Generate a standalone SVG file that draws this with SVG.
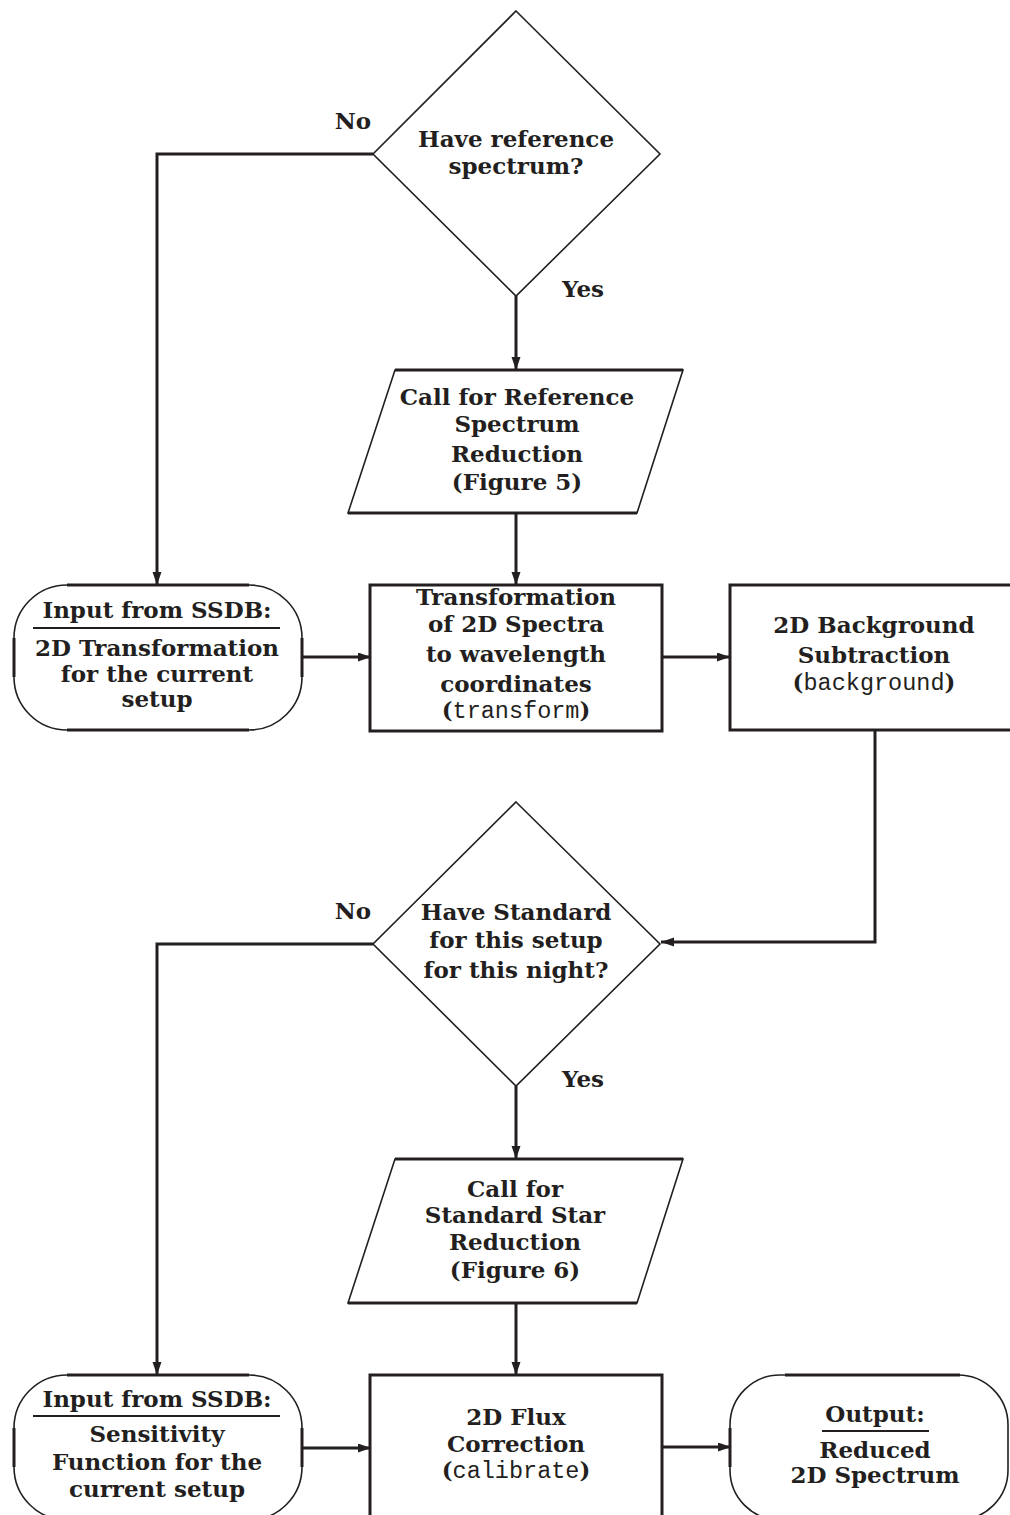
<svg xmlns="http://www.w3.org/2000/svg" width="1010" height="1515" viewBox="0 0 1010 1515">
<style>
.t{font-family:"DejaVu Serif","Liberation Serif",serif;font-weight:bold;font-size:23px;fill:#231f20;text-anchor:middle}
.m{font-family:"Liberation Mono","DejaVu Sans Mono",monospace;font-weight:normal;font-size:23.5px}
.thin{fill:#fff;stroke:#231f20;stroke-width:1.6}
.thick{fill:none;stroke:#231f20;stroke-width:3}
.box{fill:#fff;stroke:#231f20;stroke-width:3}
.ul{stroke:#231f20;stroke-width:2.2}
.c{fill:none;stroke:#231f20;stroke-width:3}
</style>
<defs>
<marker id="ah" markerUnits="userSpaceOnUse" markerWidth="14" markerHeight="10" refX="13" refY="4.5" orient="auto">
<path d="M0,0 L13,4.5 L0,9 Z" fill="#231f20"/>
</marker>
</defs>
<rect width="1010" height="1515" fill="#fff"/>

<g id="connectors">
<path class="c" d="M373,154 H157 V585" marker-end="url(#ah)"/>
<path class="c" d="M516,296 V370" marker-end="url(#ah)"/>
<path class="c" d="M516,513 V585" marker-end="url(#ah)"/>
<path class="c" d="M302,657 H371" marker-end="url(#ah)"/>
<path class="c" d="M662,657 H730" marker-end="url(#ah)"/>
<path class="c" d="M875,730 V942 H661" marker-end="url(#ah)"/>
<path class="c" d="M373,944 H157 V1375" marker-end="url(#ah)"/>
<path class="c" d="M516,1086 V1159" marker-end="url(#ah)"/>
<path class="c" d="M516,1303 V1375" marker-end="url(#ah)"/>
<path class="c" d="M302,1448 H371" marker-end="url(#ah)"/>
<path class="c" d="M662,1447 H731" marker-end="url(#ah)"/>
</g>

<g id="decision1">
<polygon class="thin" points="516,11 660,154 516,296 373,154"/>
<text class="t" x="516" y="147">Have reference</text>
<text class="t" x="516" y="174">spectrum?</text>
<text class="t" x="353" y="129">No</text>
<text class="t" x="583" y="297">Yes</text>
</g>

<g id="callref">
<polygon class="thin" points="395,370 683,370 637,513 348,513"/>
<path class="thick" d="M395,370 H683 M348,513 H637"/>
<text class="t" x="517" y="405">Call for Reference</text>
<text class="t" x="517" y="432">Spectrum</text>
<text class="t" x="517" y="462">Reduction</text>
<text class="t" x="517" y="490">(Figure 5)</text>
</g>

<g id="input1">
<rect class="thin" x="14" y="585" width="288" height="145" rx="53" ry="53"/>
<path class="thick" d="M67,585 H249 M67,730 H249 M14,638 V677 M302,638 V677"/>
<text class="t" x="157" y="618">Input from SSDB:</text>
<line class="ul" x1="33" y1="628" x2="280" y2="628"/>
<text class="t" x="157" y="656">2D Transformation</text>
<text class="t" x="157" y="682">for the current</text>
<text class="t" x="157" y="707">setup</text>
</g>

<g id="transform">
<rect class="box" x="370" y="585" width="292" height="146"/>
<text class="t" x="516" y="605">Transformation</text>
<text class="t" x="516" y="632">of 2D Spectra</text>
<text class="t" x="516" y="662">to wavelength</text>
<text class="t" x="516" y="692">coordinates</text>
<text class="t" x="516" y="718">(<tspan class="m">transform</tspan>)</text>
</g>

<g id="background">
<rect class="box" x="730" y="585" width="300" height="145"/>
<text class="t" x="874" y="633">2D Background</text>
<text class="t" x="874" y="663">Subtraction</text>
<text class="t" x="874" y="690">(<tspan class="m">background</tspan>)</text>
</g>

<g id="decision2">
<polygon class="thin" points="516,802 660,944 516,1086 373,944"/>
<text class="t" x="516" y="920">Have Standard</text>
<text class="t" x="516" y="948">for this setup</text>
<text class="t" x="516" y="978">for this night?</text>
<text class="t" x="353" y="919">No</text>
<text class="t" x="583" y="1087">Yes</text>
</g>

<g id="callstd">
<polygon class="thin" points="395,1159 683,1159 637,1303 348,1303"/>
<path class="thick" d="M395,1159 H683 M348,1303 H637"/>
<text class="t" x="515" y="1197">Call for</text>
<text class="t" x="515" y="1223">Standard Star</text>
<text class="t" x="515" y="1250">Reduction</text>
<text class="t" x="515" y="1278">(Figure 6)</text>
</g>

<g id="input2">
<rect class="thin" x="14" y="1375" width="288" height="145" rx="53" ry="53"/>
<path class="thick" d="M67,1375 H249 M14,1428 V1467 M302,1428 V1467"/>
<text class="t" x="157" y="1407">Input from SSDB:</text>
<line class="ul" x1="33" y1="1416" x2="280" y2="1416"/>
<text class="t" x="157" y="1442">Sensitivity</text>
<text class="t" x="157" y="1470">Function for the</text>
<text class="t" x="157" y="1497">current setup</text>
</g>

<g id="flux">
<rect class="box" x="370" y="1375" width="292" height="160"/>
<text class="t" x="516" y="1425">2D Flux</text>
<text class="t" x="516" y="1452">Correction</text>
<text class="t" x="516" y="1478">(<tspan class="m">calibrate</tspan>)</text>
</g>

<g id="output">
<rect class="thin" x="730" y="1375" width="278" height="145" rx="50" ry="50"/>
<path class="thick" d="M785,1375 H960 M730,1428 V1467"/>
<text class="t" x="875" y="1422">Output:</text>
<line class="ul" x1="822" y1="1431" x2="929" y2="1431"/>
<text class="t" x="875" y="1458">Reduced</text>
<text class="t" x="875" y="1483">2D Spectrum</text>
</g>
</svg>
